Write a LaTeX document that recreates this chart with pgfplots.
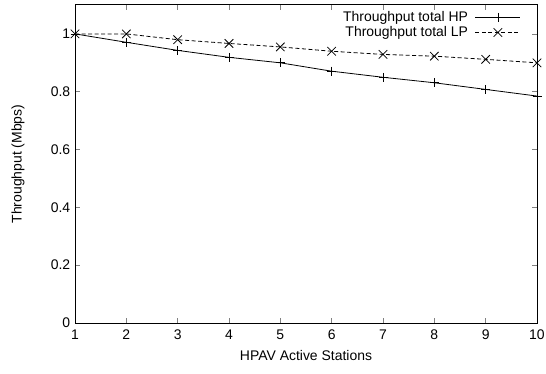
\documentclass[border=0pt]{standalone}
\usepackage{pgfplots}
\pgfplotsset{compat=1.18}
\usepackage{fontspec}
\setmainfont{Liberation Sans}
\begin{document}
\fontsize{14}{17}\selectfont
\begin{tikzpicture}
\begin{axis}[
  scale only axis, width=462bp, height=318bp,
  xmin=1, xmax=10, ymin=0, ymax=1.1,
  xtick={1,...,10}, ytick={0,0.2,0.4,0.6,0.8,1},
  yticklabels={0,0.2,0.4,0.6,0.8,1},
  tick align=inside, major tick length=5bp,
  tick style={line width=0.8pt},
  /pgf/number format/assume math mode=true,
  ticklabel style={font=\fontsize{14}{17}\selectfont},
  xticklabel style={yshift=-2bp},
  xlabel={HPAV Active Stations}, ylabel={Throughput (Mbps)},
  xlabel style={at={(axis description cs:0.5,0)}, yshift=-33bp, anchor=center},
  ylabel style={at={(axis description cs:0,0.5)}, yshift=57bp, anchor=center},
  label style={font=\fontsize{14}{17}\selectfont},
  axis line style={line width=1pt},
  legend style={draw=none, fill=none, font=\fontsize{14}{17}\selectfont,
    at={(axis cs:10,1.1)}, anchor=north east, xshift=-14bp, yshift=-2bp,
    row sep=-1bp, inner sep=2bp},
  legend cell align=right, legend plot pos=right,
  legend image code/.code={\draw[mark repeat=2,mark phase=2] plot coordinates {(0bp,0bp)(22.5bp,0bp)(45bp,0bp)};},
]
\addplot[black, line width=0.8pt, mark=+, mark size=4.5bp, mark options={solid}] coordinates {
(1,1.0) (2,0.971) (3,0.943) (4,0.919) (5,0.900) (6,0.871) (7,0.850) (8,0.831) (9,0.808) (10,0.785)};
\addlegendentry{Throughput total HP\rule{5bp}{0pt}}
\addplot[black, line width=0.8pt, dash pattern=on 4bp off 2.5bp, mark=x, mark size=6bp, mark options={solid}] coordinates {
(1,1.0) (2,1.0) (3,0.980) (4,0.967) (5,0.955) (6,0.940) (7,0.929) (8,0.923) (9,0.912) (10,0.900)};
\addlegendentry{Throughput total LP\rule{5bp}{0pt}}
\end{axis}
\pgfresetboundingbox
\path[use as bounding box] ([shift={(-75bp,-50bp)}]current axis.south west) rectangle ([shift={(9bp,5bp)}]current axis.north east);
\end{tikzpicture}
\end{document}
